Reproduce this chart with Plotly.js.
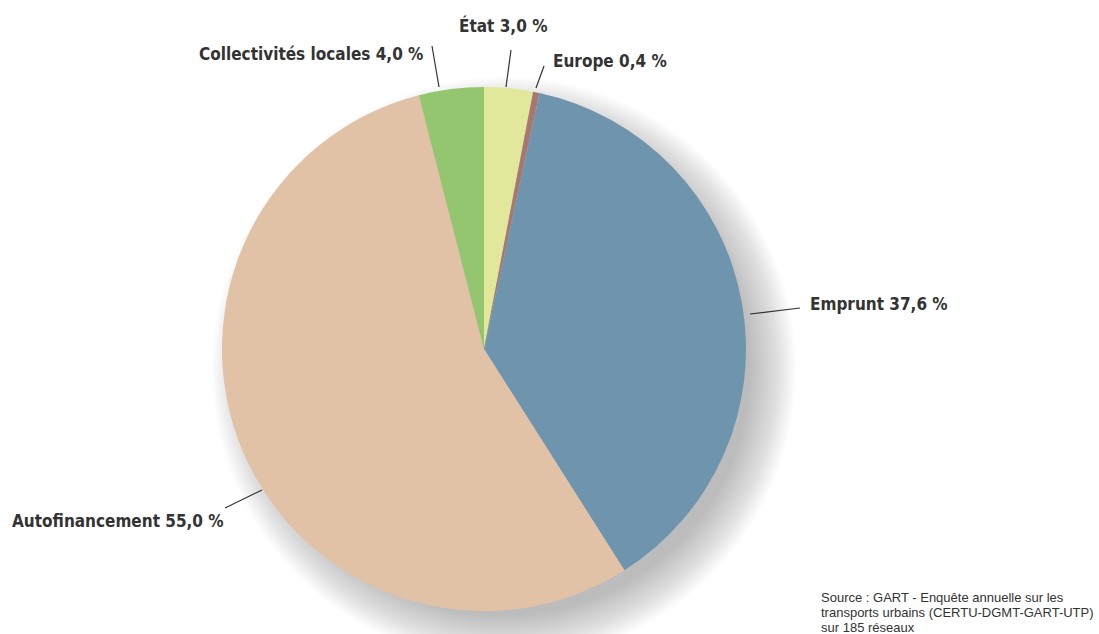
<!DOCTYPE html>
<html>
<head>
<meta charset="utf-8">
<script src="https://cdn.plot.ly/plotly-3.0.1.min.js"></script>
<style>html,body{margin:0;padding:0;background:#fff;}#chart{width:1099px;height:634px;}</style>
</head>
<body>
<div id="chart"></div>
<script>
// Data (clockwise from 12 o'clock)
const categories = ["État", "Europe", "Emprunt", "Autofinancement", "Collectivités locales"];
const shares = [3.0, 0.4, 37.6, 55.0, 4.0];
const colors = ["#e1e89b", "#a9776f", "#6e95ad", "#e2c2a6", "#93c66e"];
const sourceLines = ["Source : GART - Enquête annuelle sur les", "transports urbains (CERTU-DGMT-GART-UTP)", "sur 185 réseaux"];

const W = 1099, H = 634;
const px = x => x / W;
const py = y => 1 - y / H;
const fmt = v => v.toFixed(1).replace('.', ',') + ' %';

// pie geometry (pixels)
const cx = 484, cy = 349, r = 262;

const labelFont = {family: "'DejaVu Sans Condensed', 'Liberation Sans Narrow', 'Arial Narrow', sans-serif", size: 17, color: "#333333", weight: 700};

// label placement (pixels): text anchor + leader line ends
const labelPos = {
  "État": {x: 503, y: 26, xa: "center", line: [511, 50, 506, 87]},
  "Europe": {x: 551, y: 61, xa: "left", line: [544, 66, 536, 88]},
  "Emprunt": {x: 808, y: 304, xa: "left", line: [750, 314, 800, 308]},
  "Autofinancement": {x: 10, y: 521, xa: "left", line: [225, 508, 262, 490]},
  "Collectivités locales": {x: 425, y: 54, xa: "right", line: [432, 46, 439, 87]}
};

const annotations = [];
const shapes = [];

// soft shadow behind pie (offset down-right)
const sx = cx + 20, sy = cy + 20;
for (let i = 0; i < 20; i++) {
  const rr = r - 16 + i * 2.4;
  shapes.push({type: "circle", xref: "paper", yref: "paper", layer: "below",
    x0: px(sx - rr), x1: px(sx + rr), y0: py(sy + rr), y1: py(sy - rr),
    fillcolor: "rgba(115,113,135,0.03)", line: {width: 0}});
}

categories.forEach((c, i) => {
  const p = labelPos[c];
  annotations.push({xref: "paper", yref: "paper", x: px(p.x), y: py(p.y), xanchor: p.xa, yanchor: "middle",
    text: c + " " + fmt(shares[i]), showarrow: false, font: labelFont});
  shapes.push({type: "line", xref: "paper", yref: "paper", layer: "above",
    x0: px(p.line[0]), y0: py(p.line[1]), x1: px(p.line[2]), y1: py(p.line[3]),
    line: {color: "#333333", width: 1.2}});
});

sourceLines.forEach((t, i) => {
  annotations.push({xref: "paper", yref: "paper", x: px(819), y: py(597 + i * 15), xanchor: "left", yanchor: "middle",
    text: t, showarrow: false, font: {family: "'Liberation Sans', Arial, sans-serif", size: 13, color: "#333333"}});
});

const trace = {
  type: "pie",
  labels: categories,
  values: shares,
  marker: {colors: colors, line: {width: 0}},
  sort: false,
  direction: "clockwise",
  rotation: 0,
  textinfo: "none",
  hoverinfo: "label+percent",
  domain: {x: [px(cx - r), px(cx + r)], y: [py(cy + r), py(cy - r)]}
};

const layout = {
  width: W, height: H,
  margin: {l: 0, r: 0, t: 0, b: 0},
  paper_bgcolor: "#ffffff",
  showlegend: false,
  annotations: annotations,
  shapes: shapes
};

Plotly.newPlot("chart", [trace], layout, {displayModeBar: false, staticPlot: true});
</script>
</body>
</html>
